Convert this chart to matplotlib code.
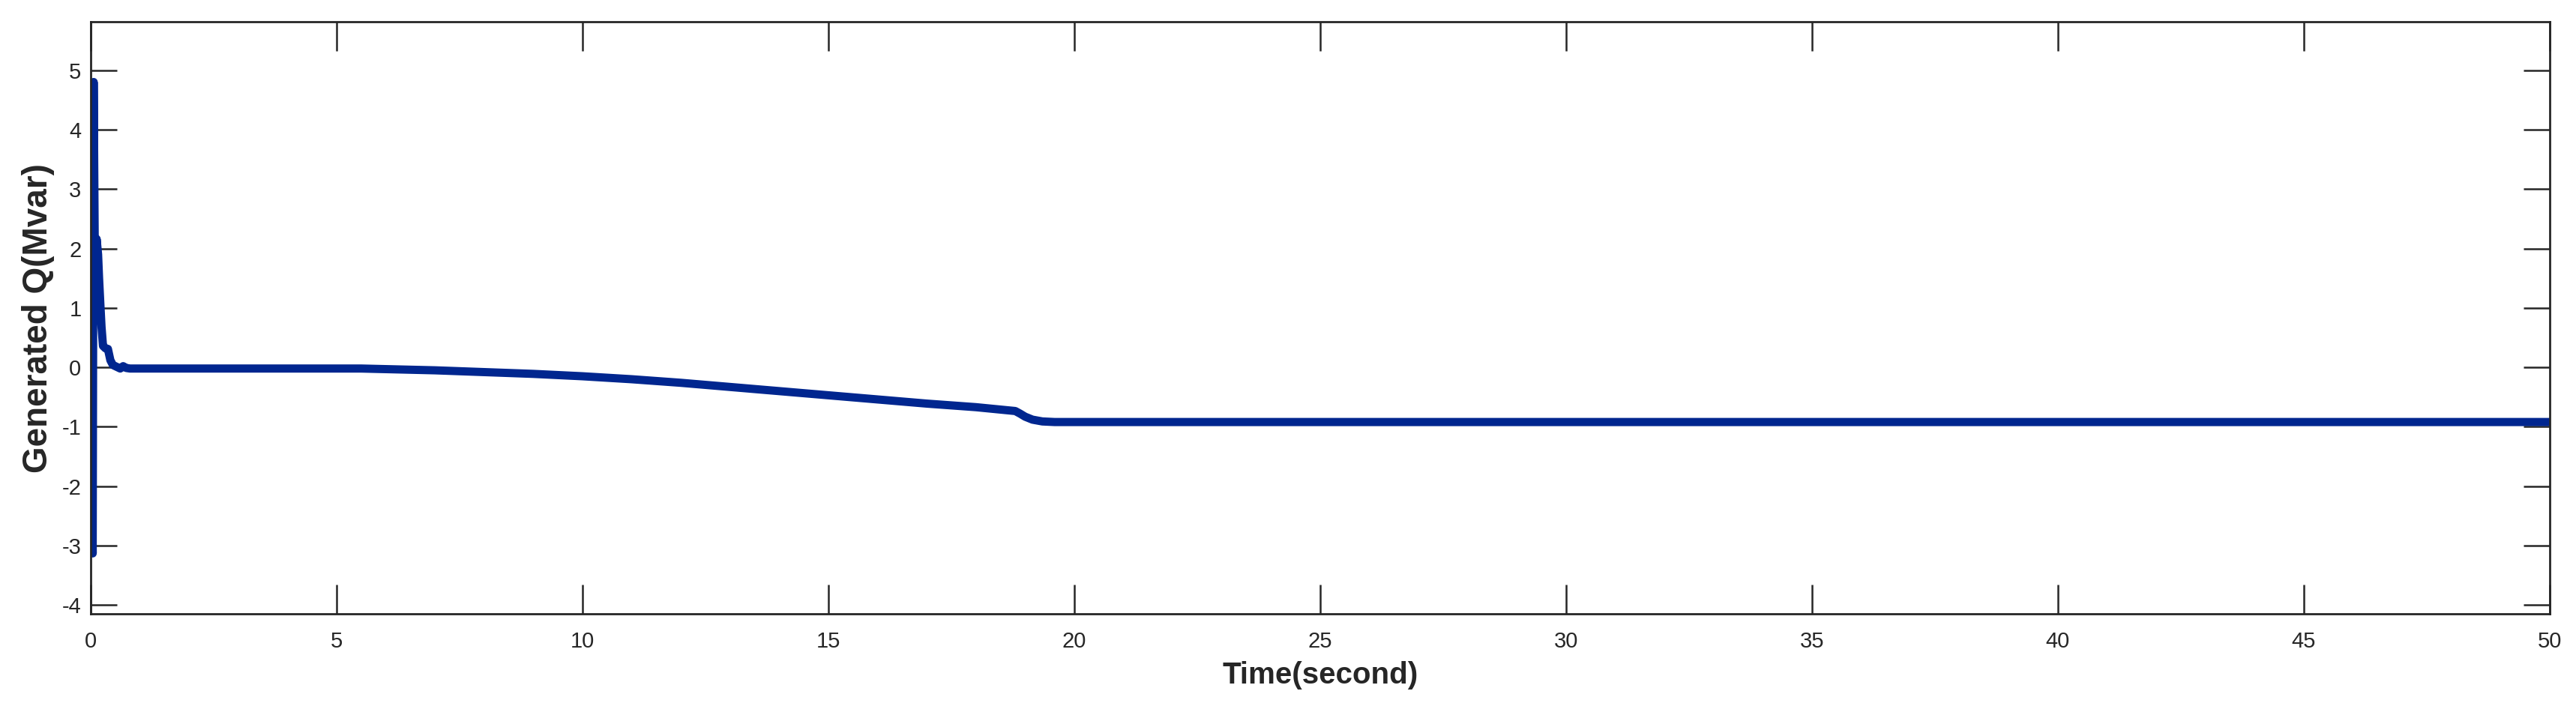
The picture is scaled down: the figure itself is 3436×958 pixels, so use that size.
import matplotlib
matplotlib.use('Agg')
import matplotlib.pyplot as plt

plt.rcParams['font.family'] = ['Liberation Sans', 'DejaVu Sans']
plt.rcParams['axes.unicode_minus'] = False

# time (s) and generated reactive power (Mvar)
time_s = [0, 0.04, 0.06, 0.09, 0.12, 0.15, 0.17, 0.2, 0.22, 0.25, 0.3, 0.35,
          0.4, 0.45, 0.55, 0.6, 0.66, 0.72, 0.8, 5.5, 6, 7, 8, 9, 10, 11, 12,
          13, 14, 15, 16, 17, 18, 18.8, 18.9, 19.0, 19.15, 19.35, 19.6, 50]
q_mvar = [0, -3.13, 4.8, 1.05, 2.16, 1.9, 1.5, 1.0, 0.68, 0.36, 0.32, 0.31,
          0.12, 0.04, 0.0, -0.02, 0.02, -0.01, -0.02, -0.02, -0.03, -0.05,
          -0.08, -0.11, -0.15, -0.2, -0.26, -0.33, -0.4, -0.47, -0.54, -0.61,
          -0.67, -0.735, -0.78, -0.83, -0.88, -0.91, -0.92, -0.92]

x_ticks = [0, 5, 10, 15, 20, 25, 30, 35, 40, 45, 50]
y_ticks = [-4, -3, -2, -1, 0, 1, 2, 3, 4, 5]

fig = plt.figure(figsize=(34.37, 9.58), dpi=100)
ax = fig.add_axes([0.0352, 0.1448, 0.9543, 0.8246])

ax.plot(time_s, q_mvar, color='#00268f', linewidth=7.9, solid_capstyle='butt')

ax.set_xlim(0, 50)
ax.set_ylim(-4.15, 5.81)
ax.set_xticks(x_ticks)
ax.set_yticks(y_ticks)

frame_col = '#262626'
for s in ax.spines.values():
    s.set_linewidth(2.0)
    s.set_color(frame_col)

ax.tick_params(axis='x', direction='in', length=28, width=1.8, colors=frame_col,
               top=True, labelsize=21, pad=16)
ax.tick_params(axis='y', direction='in', length=25, width=1.8, colors=frame_col,
               right=True, labelsize=21, pad=9)

ax.set_xlabel('Time(second)', fontsize=29, fontweight='bold', color=frame_col, labelpad=9)
ax.set_ylabel('Generated Q(Mvar)', fontsize=33, fontweight='bold', color=frame_col, labelpad=7)

fig.savefig('out.png', dpi=100)
